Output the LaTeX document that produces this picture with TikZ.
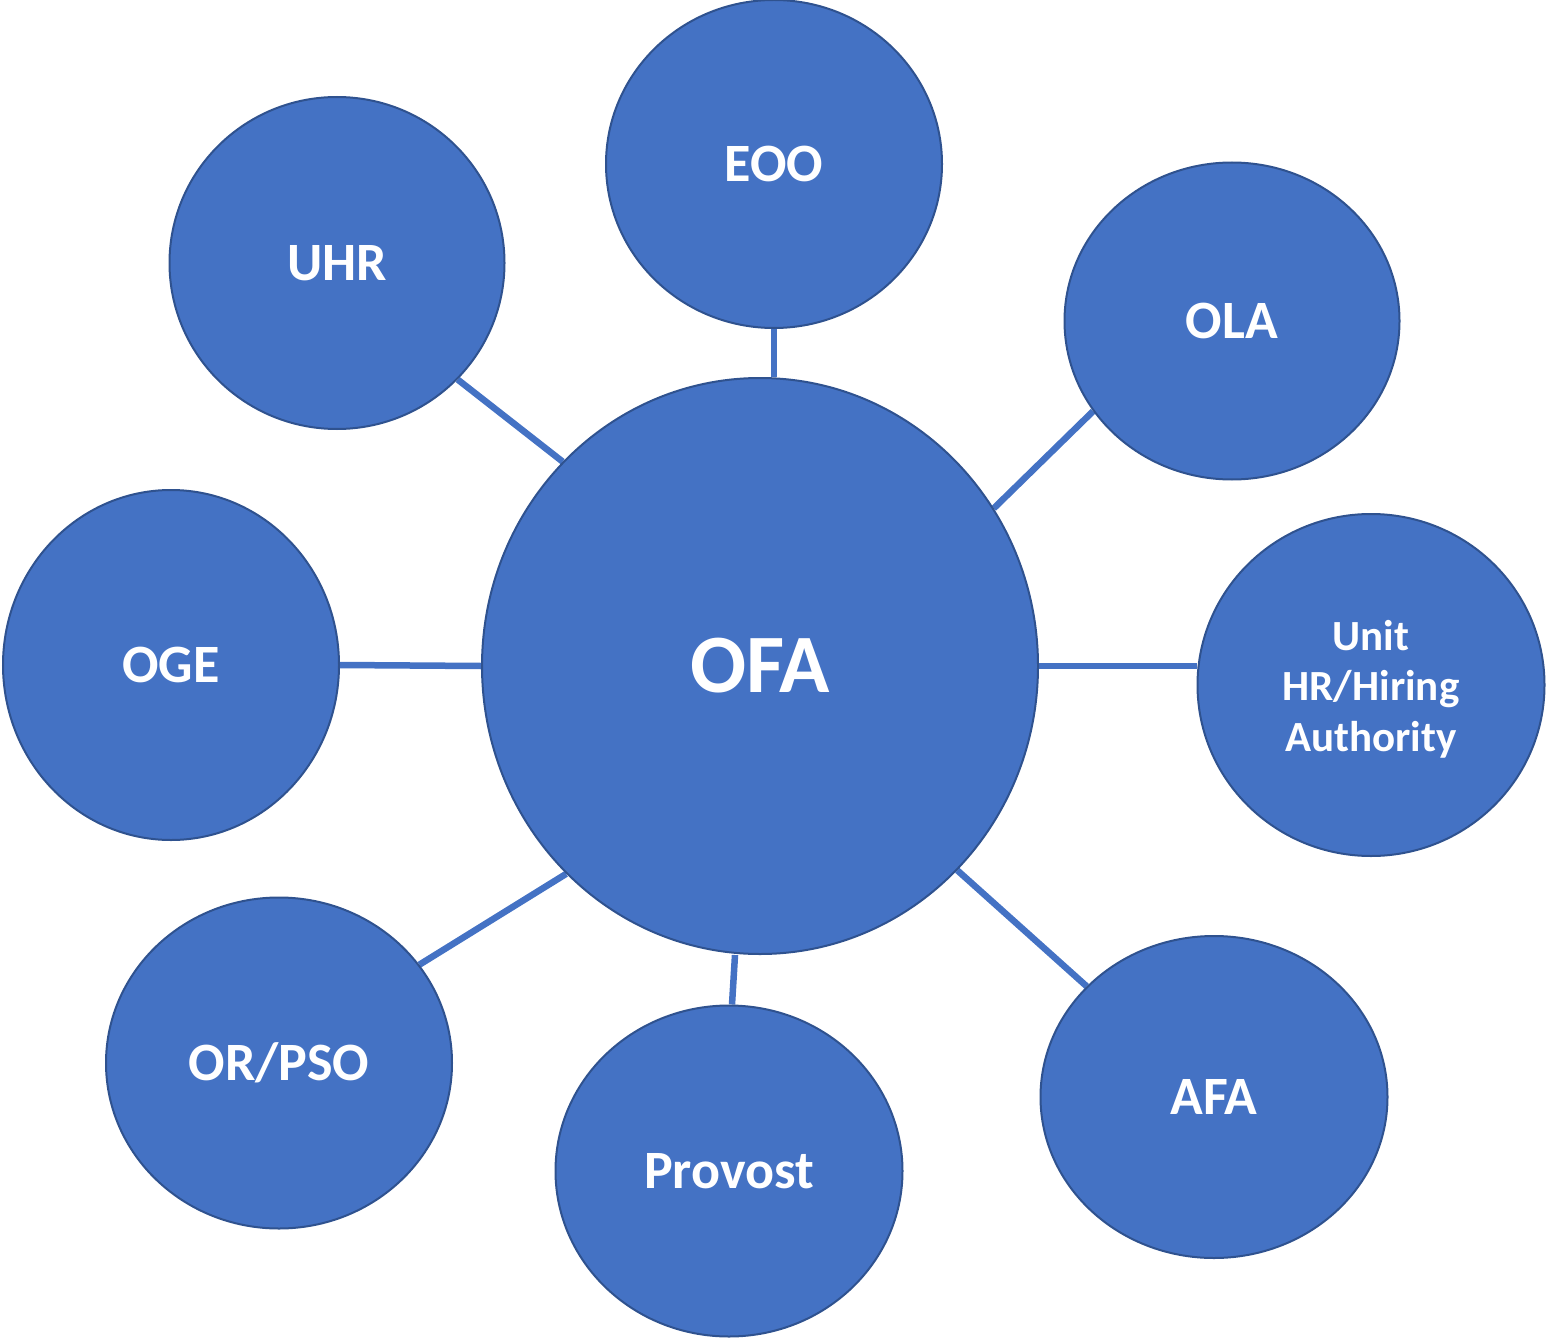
\documentclass[tikz,border=0pt]{standalone}
\usepackage{fontspec}
\setmainfont{Carlito}
\usetikzlibrary{shapes.geometric}
\pgfdeclarelayer{background}
\pgfsetlayers{background,main}
\definecolor{nodeblue}{HTML}{4472C4}
\definecolor{edgeblue}{HTML}{2F528F}
\begin{document}
\begin{tikzpicture}[x=1pt,y=-1pt,
  circ/.style={ellipse,draw=edgeblue,line width=2pt,fill=nodeblue,text=white,
    font=\fontsize{54}{60}\selectfont\bfseries,inner sep=0pt,align=center},
  lbl/.style={text=white,inner sep=0pt,align=center},
  link/.style={draw=nodeblue,line width=6.5pt}]
\useasboundingbox (0,0) rectangle (1547,1340);
\node[circ,minimum width=556,minimum height=576,font=\fontsize{83}{90}\selectfont\bfseries] (ofa) at (760,666) {OFA};
\node[circ,minimum width=336,minimum height=328] (eoo) at (774,164) {EOO};
\node[circ,minimum width=335,minimum height=332] (uhr) at (337,263) {UHR};
\node[circ,minimum width=335,minimum height=317] (ola) at (1232,321) {OLA};
\node[circ,minimum width=336,minimum height=350] (oge) at (171,665) {OGE};
\node[circ,minimum width=347,minimum height=342] (unit) at (1371,685) {};
\node[lbl,font=\fontsize{43}{50.5}\selectfont\bfseries] (unittext) at ([yshift=-4pt]unit.center) {Unit\\HR/Hiring\\Authority};
\node[circ,minimum width=346,minimum height=331] (orpso) at (279,1063) {OR/PSO};
\node[circ,minimum width=347,minimum height=331] (prov) at (729,1171) {Provost};
\node[circ,minimum width=347,minimum height=322] (afa) at (1214,1097) {AFA};
\begin{pgfonlayer}{background}
\path[link] (eoo.south) -- (eoo.south |- ofa.north);
\path[link] (uhr.-44) -- (ofa.134);
\path[link] (ola.-147) -- (ofa.34);
\path[link] (oge.east) -- (ofa.west);
\path[link] (ofa.east) -- (ofa.east -| unit.west);
\path[link] (orpso.35) -- (ofa.-133.6);
\path[link] ([xshift=-25pt]ofa.south) -- ([xshift=3pt]prov.north);
\path[link] (ofa.-46.4) -- (afa.139.7);
\end{pgfonlayer}
\end{tikzpicture}
\end{document}
